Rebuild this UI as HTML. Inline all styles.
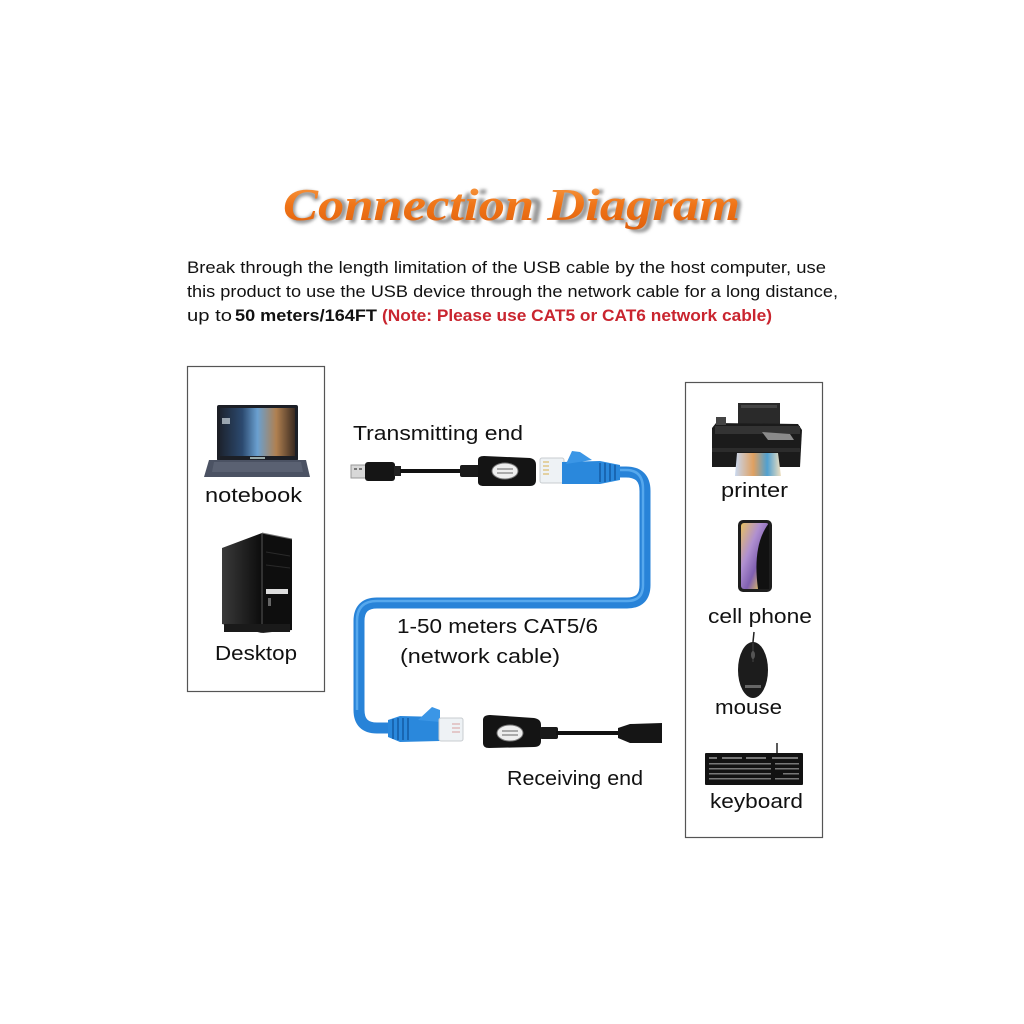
<!DOCTYPE html>
<html>
<head>
<meta charset="utf-8">
<style>
html,body{margin:0;padding:0;background:#fff;}
svg{display:block;}
text{font-family:"Liberation Sans",sans-serif;}
</style>
</head>
<body>
<svg width="1024" height="1024" viewBox="0 0 1024 1024" xmlns="http://www.w3.org/2000/svg">
<defs>
  <linearGradient id="tg" x1="0" y1="0" x2="0" y2="1">
    <stop offset="0" stop-color="#f7a04a"/>
    <stop offset="0.5" stop-color="#f07518"/>
    <stop offset="1" stop-color="#e0600c"/>
  </linearGradient>
  <filter id="blur" x="-5%" y="-20%" width="110%" height="140%"><feGaussianBlur stdDeviation="1.5"/></filter>
  <linearGradient id="scr" x1="0" y1="0" x2="1" y2="0">
    <stop offset="0" stop-color="#1d2430"/>
    <stop offset="0.3" stop-color="#2c4a70"/>
    <stop offset="0.5" stop-color="#6aa0d0"/>
    <stop offset="0.75" stop-color="#b08050"/>
    <stop offset="1" stop-color="#3a2a20"/>
  </linearGradient>
  <linearGradient id="ph" x1="0" y1="0" x2="1" y2="1">
    <stop offset="0" stop-color="#e8c060"/>
    <stop offset="0.35" stop-color="#b090d0"/>
    <stop offset="0.6" stop-color="#8060b0"/>
    <stop offset="0.8" stop-color="#d0b070"/>
    <stop offset="1" stop-color="#101010"/>
  </linearGradient>
  <linearGradient id="photo" x1="0" y1="0" x2="1" y2="0">
    <stop offset="0" stop-color="#c8d8f0"/>
    <stop offset="0.4" stop-color="#e0a060"/>
    <stop offset="0.7" stop-color="#50a0d0"/>
    <stop offset="1" stop-color="#f0e0c0"/>
  </linearGradient>
  <linearGradient id="tow" x1="0" y1="0" x2="1" y2="0">
    <stop offset="0" stop-color="#3a3a3a"/>
    <stop offset="1" stop-color="#0c0c0c"/>
  </linearGradient>
</defs>

<!-- Title -->
<text x="286" y="223" font-family="Liberation Serif,serif" font-weight="bold" font-style="italic" font-size="46" fill="#9a9a9a" filter="url(#blur)" textLength="457" lengthAdjust="spacingAndGlyphs">Connection Diagram</text>
<text x="283" y="220" font-family="Liberation Serif,serif" font-weight="bold" font-style="italic" font-size="46" fill="url(#tg)" textLength="457" lengthAdjust="spacingAndGlyphs" style="font-family:'Liberation Serif',serif">Connection Diagram</text>

<!-- Paragraph -->
<g font-size="17" fill="#111">
  <text x="187" y="273" textLength="639" lengthAdjust="spacingAndGlyphs">Break through the length limitation of the USB cable by the host computer, use</text>
  <text x="187" y="297" textLength="651" lengthAdjust="spacingAndGlyphs">this product to use the USB device through the network cable for a long distance,</text>
  <text x="187" y="321" textLength="45" lengthAdjust="spacingAndGlyphs">up to</text>
  <text x="235" y="321" font-weight="bold" textLength="142" lengthAdjust="spacingAndGlyphs">50 meters/164FT</text>
  <text x="382" y="321" font-weight="bold" fill="#c9252f" textLength="390" lengthAdjust="spacingAndGlyphs">(Note: Please use CAT5 or CAT6 network cable)</text>
</g>

<!-- Boxes -->
<rect x="187.5" y="366.5" width="137" height="325" fill="none" stroke="#555" stroke-width="1.2"/>
<rect x="685.5" y="382.5" width="137" height="455" fill="none" stroke="#555" stroke-width="1.2"/>

<!-- Laptop -->
<rect x="217" y="405" width="81" height="56" rx="2" fill="#1c1f26"/>
<rect x="220" y="408" width="75" height="48" fill="url(#scr)"/>
<rect x="222" y="418" width="8" height="6" fill="#cfd8e0" opacity="0.7"/>
<polygon points="209,460 306,460 310,477 204,477" fill="#4b5263"/>
<polygon points="214,462 301,462 303,472 212,472" fill="#5a6172"/>
<rect x="250" y="457" width="15" height="2" fill="#9aa"/>

<!-- Desktop -->
<polygon points="222,548 262,533 262,633 222,624" fill="url(#tow)"/>
<polygon points="262,533 292,539 292,630 262,633" fill="#0e0e0e"/>
<line x1="262" y1="533" x2="292" y2="539" stroke="#777" stroke-width="1"/>
<line x1="262" y1="533" x2="262" y2="633" stroke="#555" stroke-width="1"/>
<rect x="266" y="589" width="22" height="5" fill="#ddd"/>
<rect x="268" y="598" width="3" height="8" fill="#666"/>
<line x1="266" y1="552" x2="290" y2="556" stroke="#2a2a2a" stroke-width="1"/>
<line x1="266" y1="565" x2="290" y2="568" stroke="#2a2a2a" stroke-width="1"/>
<rect x="224" y="624" width="66" height="8" fill="#1a1a1a"/>

<!-- Left labels -->
<g font-size="20" fill="#111">
  <text x="205" y="502" textLength="97" lengthAdjust="spacingAndGlyphs">notebook</text>
  <text x="215" y="660" textLength="82" lengthAdjust="spacingAndGlyphs">Desktop</text>
</g>

<!-- Transmitting end -->
<text x="353" y="440" font-size="20" fill="#111" textLength="170" lengthAdjust="spacingAndGlyphs">Transmitting end</text>
<!-- USB male plug -->
<rect x="351" y="465" width="15" height="13" fill="#d8d8d8" stroke="#999" stroke-width="1"/>
<rect x="354" y="468" width="3" height="2" fill="#777"/><rect x="359" y="468" width="3" height="2" fill="#777"/>
<rect x="365" y="462" width="30" height="19" rx="3" fill="#151515"/>
<rect x="394" y="466" width="7" height="10" fill="#222"/>
<line x1="400" y1="471" x2="462" y2="471" stroke="#111" stroke-width="4"/>
<rect x="460" y="465" width="20" height="12" rx="2" fill="#1a1a1a"/>
<path d="M478 460 Q478 456 484 456 L530 458 Q536 459 536 465 L536 480 Q536 486 530 486 L484 486 Q478 486 478 482 Z" fill="#141414"/>
<ellipse cx="505" cy="471" rx="13" ry="8" fill="#eee" stroke="#777" stroke-width="1"/>
<line x1="497" y1="469" x2="513" y2="469" stroke="#666" stroke-width="1"/>
<line x1="497" y1="473" x2="513" y2="473" stroke="#666" stroke-width="1"/>

<!-- Blue cable -->
<path d="M610 472 L626 472 Q645 472 645 491 L645 585 Q645 603 627 603 L377 603 Q359 603 359 621 L359 710 Q359 728 377 728 L392 728" fill="none" stroke="#2883d8" stroke-width="11" stroke-linejoin="round"/>
<path d="M612 470 L626 470 Q643 470 643 489 L643 585 Q643 601 627 601 L377 601 Q357 601 357 621 L357 710" fill="none" stroke="#62b2f2" stroke-width="2.5" opacity="0.8"/>

<!-- Top RJ45 -->
<rect x="540" y="458" width="24" height="25" rx="2" fill="#eef2f5" stroke="#c8ccd0" stroke-width="1"/>
<g stroke="#d8b050" stroke-width="1"><line x1="543" y1="462" x2="549" y2="462"/><line x1="543" y1="466" x2="549" y2="466"/><line x1="543" y1="470" x2="549" y2="470"/><line x1="543" y1="474" x2="549" y2="474"/></g>
<path d="M562 462 L600 461 L620 465 L620 480 L600 484 L562 484 Z" fill="#2a88dc"/>
<path d="M566 464 L572 451 L580 452 L592 460 Z" fill="#3b96e6"/>
<g stroke="#155ea8" stroke-width="1.6"><line x1="600" y1="463" x2="600" y2="482"/><line x1="605" y1="463" x2="605" y2="482"/><line x1="610" y1="464" x2="610" y2="481"/><line x1="615" y1="465" x2="615" y2="480"/></g>

<!-- Bottom RJ45 -->
<path d="M388 720 L400 716 L440 717 L440 741 L400 742 L388 737 Z" fill="#2a88dc"/>
<path d="M418 720 L432 707 L440 710 L440 722 Z" fill="#3b96e6"/>
<g stroke="#155ea8" stroke-width="1.6"><line x1="393" y1="719" x2="393" y2="739"/><line x1="398" y1="718" x2="398" y2="740"/><line x1="403" y1="718" x2="403" y2="740"/><line x1="408" y1="718" x2="408" y2="740"/></g>
<rect x="439" y="718" width="24" height="23" rx="2" fill="#eef2f5" stroke="#c8ccd0" stroke-width="1"/>
<g stroke="#d8a0a0" stroke-width="1"><line x1="452" y1="724" x2="460" y2="724"/><line x1="452" y1="728" x2="460" y2="728"/><line x1="452" y1="732" x2="460" y2="732"/></g>

<!-- Receiving adapter -->
<path d="M483 720 Q483 715 490 715 L534 718 Q541 719 541 725 L541 741 Q541 747 534 747 L489 748 Q483 748 483 743 Z" fill="#141414"/>
<ellipse cx="510" cy="733" rx="13" ry="8" fill="#eee" stroke="#777" stroke-width="1"/>
<line x1="502" y1="731" x2="518" y2="731" stroke="#666" stroke-width="1"/>
<line x1="502" y1="735" x2="518" y2="735" stroke="#666" stroke-width="1"/>
<rect x="540" y="727" width="18" height="12" rx="2" fill="#1a1a1a"/>
<line x1="556" y1="733" x2="625" y2="733" stroke="#111" stroke-width="4"/>
<path d="M618 728 L630 724 L662 723 L662 743 L630 743 L618 738 Z" fill="#151515"/>

<!-- Cable labels -->
<g font-size="20" fill="#111">
  <text x="397" y="633" textLength="201" lengthAdjust="spacingAndGlyphs">1-50 meters CAT5/6</text>
  <text x="400" y="663" textLength="160" lengthAdjust="spacingAndGlyphs">(network cable)</text>
  <text x="507" y="785" textLength="136" lengthAdjust="spacingAndGlyphs">Receiving end</text>
</g>

<!-- Printer -->
<rect x="738" y="403" width="42" height="21" fill="#2a2a2a"/>
<rect x="741" y="405" width="36" height="3" fill="#444"/>
<path d="M712 428 L716 423 L798 424 L802 430 L800 467 L712 467 Z" fill="#1b1b1b"/>
<rect x="715" y="426" width="85" height="8" fill="#333"/>
<rect x="716" y="417" width="10" height="8" fill="#444"/>
<polygon points="762,432 790,434 794,440 768,440" fill="#8a8a8a"/>
<rect x="712" y="448" width="88" height="4" fill="#2c2c2c"/>
<polygon points="737,453 778,453 781,476 735,476" fill="url(#photo)"/>

<!-- Phone -->
<rect x="738" y="520" width="34" height="72" rx="5" fill="#1e1e1e"/>
<rect x="741" y="523" width="28" height="66" rx="3" fill="url(#ph)"/>
<path d="M769 523 Q752 545 758 589 L769 589 Z" fill="#111"/>

<!-- Mouse -->
<path d="M753 642 L754 632" stroke="#222" stroke-width="1.5"/>
<ellipse cx="753" cy="670" rx="15" ry="28" fill="#1c1c1c"/>
<line x1="753" y1="643" x2="753" y2="662" stroke="#444" stroke-width="1"/>
<ellipse cx="753" cy="655" rx="2" ry="4" fill="#555"/>
<rect x="745" y="685" width="16" height="3" fill="#666"/>

<!-- Keyboard -->
<line x1="777" y1="743" x2="777" y2="754" stroke="#222" stroke-width="1.5"/>
<rect x="705" y="753" width="98" height="32" rx="1" fill="#121212"/>
<g fill="#777">
  <rect x="709" y="757" width="8" height="2"/><rect x="722" y="757" width="20" height="2"/><rect x="746" y="757" width="20" height="2"/><rect x="772" y="757" width="26" height="2"/>
  <rect x="709" y="763" width="62" height="1.5"/><rect x="775" y="763" width="24" height="1.5"/>
  <rect x="709" y="768" width="62" height="1.5"/><rect x="775" y="768" width="24" height="1.5"/>
  <rect x="709" y="773" width="62" height="1.5"/><rect x="783" y="773" width="16" height="1.5"/>
  <rect x="709" y="778" width="62" height="1.5"/><rect x="775" y="778" width="24" height="1.5"/>
</g>

<!-- Right labels -->
<g font-size="20" fill="#111">
  <text x="721" y="497" textLength="67" lengthAdjust="spacingAndGlyphs">printer</text>
  <text x="708" y="623" textLength="104" lengthAdjust="spacingAndGlyphs">cell phone</text>
  <text x="715" y="714" textLength="67" lengthAdjust="spacingAndGlyphs">mouse</text>
  <text x="710" y="808" textLength="93" lengthAdjust="spacingAndGlyphs">keyboard</text>
</g>
</svg>
</body>
</html>
